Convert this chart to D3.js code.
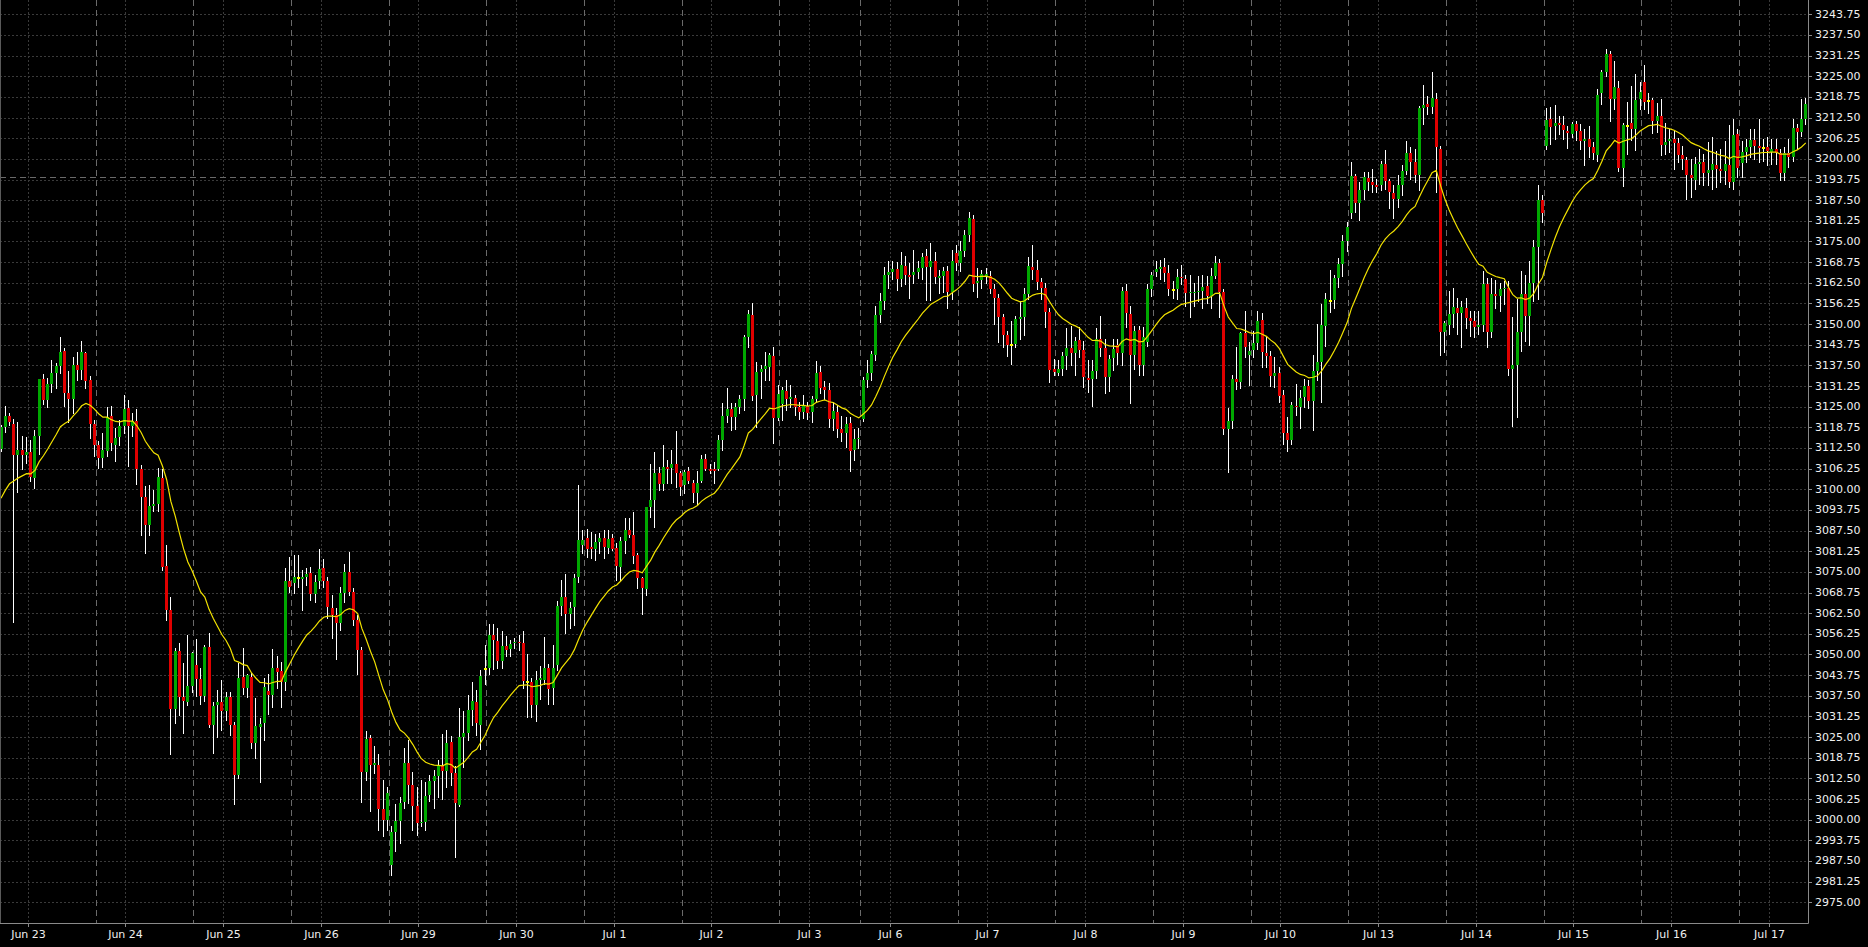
<!DOCTYPE html>
<html><head><meta charset="utf-8">
<script src="https://cdn.jsdelivr.net/npm/d3@7"></script>
<style>html,body{margin:0;padding:0;background:#000;overflow:hidden}svg{display:block}</style>
</head><body>
<svg id="chart" width="1868" height="947"></svg>
<script>
// ---- data: hourly candles [open, high, low, close] per trading session ----
const dayLabels = ["Jun 23","Jun 24","Jun 25","Jun 26","Jun 29","Jun 30","Jul 1","Jul 2","Jul 3","Jul 6","Jul 7","Jul 8","Jul 9","Jul 10","Jul 13","Jul 14","Jul 15","Jul 16","Jul 17"];
const jun23 = [[3112.1,3119.5,3111.5,3118.9],[3118.7,3125.2,3117.4,3122.2],[3122.2,3123.0,3119.4,3120.5],[3119.9,3121.2,3059.9,3110.4],[3110.4,3120.4,3099.1,3111.9],[3111.9,3116.1,3106.0,3110.4],[3110.4,3115.7,3108.0,3111.2],[3111.2,3114.9,3102.6,3103.8],[3103.5,3117.9,3100.3,3116.1],[3116.1,3133.4,3110.6,3133.4],[3133.3,3134.9,3125.8,3127.0],[3127.0,3133.6,3125.0,3131.8],[3131.8,3139.1,3129.5,3135.1],[3135.1,3138.1,3130.5,3137.3],[3137.3,3146.0,3135.3,3141.6],[3141.8,3142.9,3125.3,3129.2],[3129.2,3135.9,3120.4,3127.2],[3127.2,3140.1,3123.2,3137.6],[3137.6,3141.5,3133.1,3136.1],[3136.1,3144.9,3133.3,3141.5],[3141.3,3141.5,3130.5,3132.9],[3133.1,3134.3,3115.4,3119.9],[3119.9,3121.0,3110.0,3113.5]];
const jun24 = [[3113.5,3114.5,3106.5,3109.5],[3109.5,3117.0,3106.6,3111.9],[3111.6,3125.0,3110.0,3121.8],[3122.2,3125.2,3112.0,3113.9],[3113.4,3118.5,3108.6,3115.4],[3115.7,3121.0,3113.5,3119.1],[3119.1,3128.4,3117.0,3124.3],[3124.7,3127.0,3107.0,3119.2],[3119.2,3123.0,3116.0,3120.6],[3120.6,3124.3,3101.6,3106.0],[3106.0,3107.4,3086.1,3097.8],[3097.8,3101.0,3080.7,3089.2],[3089.2,3101.3,3086.1,3095.0],[3095.0,3099.8,3093.5,3095.6],[3095.6,3106.5,3093.5,3103.6],[3103.4,3106.0,3075.6,3076.5],[3076.7,3083.0,3060.5,3063.6],[3063.4,3067.5,3019.9,3033.4],[3033.4,3052.0,3029.4,3051.0],[3051.0,3053.4,3031.8,3037.2],[3037.2,3047.3,3026.1,3035.8],[3035.5,3055.9,3034.7,3040.4],[3040.4,3050.9,3038.7,3050.5]];
const jun25 = [[3046.8,3054.6,3037.4,3042.5],[3042.5,3046.0,3035.0,3037.4],[3037.4,3053.0,3036.0,3052.4],[3052.4,3056.4,3028.2,3028.6],[3028.6,3035.5,3020.1,3034.4],[3034.7,3039.2,3025.1,3035.7],[3035.7,3042.3,3027.1,3032.9],[3032.9,3038.7,3030.2,3037.2],[3037.2,3038.5,3025.6,3028.8],[3028.8,3029.5,3004.9,3013.5],[3013.5,3047.3,3012.5,3043.0],[3043.3,3051.9,3038.0,3039.8],[3039.8,3044.2,3037.0,3043.8],[3043.3,3044.3,3021.6,3023.3],[3023.3,3036.9,3018.6,3028.4],[3028.2,3030.7,3011.5,3029.1],[3029.3,3042.8,3024.1,3040.3],[3038.8,3044.0,3032.0,3037.6],[3037.8,3051.7,3034.2,3045.8],[3045.8,3049.6,3039.8,3044.8],[3045.0,3047.8,3034.2,3041.8],[3041.8,3076.1,3039.3,3072.3],[3072.3,3079.4,3069.0,3070.5]];
const jun26 = [[3071.6,3080.0,3068.5,3073.4],[3073.0,3080.1,3070.5,3073.0],[3072.8,3075.6,3063.5,3073.4],[3073.4,3076.1,3071.0,3074.4],[3074.6,3076.6,3066.6,3068.2],[3068.2,3074.0,3066.0,3072.0],[3072.2,3081.9,3070.0,3075.9],[3076.1,3079.0,3070.5,3072.1],[3072.1,3073.5,3061.0,3064.5],[3064.0,3068.0,3055.0,3062.0],[3061.8,3064.0,3048.5,3059.4],[3059.6,3070.5,3057.5,3068.5],[3068.5,3077.5,3066.0,3075.1],[3075.1,3081.0,3068.0,3069.0],[3069.0,3070.0,3059.0,3060.5],[3060.5,3062.0,3044.0,3051.4],[3051.4,3052.3,3005.5,3014.3],[3014.3,3026.7,3012.0,3024.3],[3024.6,3025.5,3002.7,3016.6],[3016.6,3022.4,3014.0,3017.1],[3016.6,3020.0,2996.8,3003.2],[3003.2,3012.0,2995.0,2999.9],[2999.9,3010.0,2997.0,3008.2]];
const jun29 = [[2986.3,2998.0,2983.4,2996.4],[2996.4,3004.7,2990.5,2999.6],[2999.6,3007.0,2993.0,3005.2],[3005.5,3021.6,3003.5,3017.3],[3017.1,3024.0,3005.0,3010.5],[3010.5,3014.5,2997.0,3004.0],[3004.0,3010.0,2995.5,2998.9],[2998.9,3012.0,2998.0,2999.4],[2999.4,3011.5,2996.9,3007.2],[3007.6,3013.5,3005.6,3011.7],[3011.7,3015.0,3003.5,3013.2],[3013.2,3018.0,3007.0,3016.1],[3016.1,3026.0,3006.2,3014.6],[3014.6,3027.0,3010.0,3023.1],[3023.6,3025.2,3010.6,3014.1],[3014.1,3016.4,2988.6,3005.0],[3004.5,3033.7,3004.0,3025.1],[3025.1,3033.0,3016.0,3026.1],[3026.1,3037.6,3024.1,3033.2],[3033.2,3041.6,3028.7,3035.9],[3035.5,3039.3,3025.5,3029.2],[3028.7,3045.3,3021.3,3043.5],[3045.5,3053.0,3041.0,3045.5]];
const jun30 = [[3045.8,3059.3,3044.0,3055.9],[3055.9,3059.3,3045.5,3054.4],[3054.2,3058.0,3046.0,3048.1],[3048.1,3057.0,3045.8,3052.6],[3052.6,3055.5,3049.6,3051.4],[3051.7,3054.5,3049.5,3053.1],[3053.6,3055.0,3052.0,3053.8],[3053.8,3056.0,3051.5,3053.6],[3053.6,3057.0,3039.8,3042.1],[3041.6,3050.0,3031.2,3041.6],[3041.6,3043.0,3031.0,3034.7],[3034.7,3045.0,3030.0,3042.3],[3042.3,3046.5,3036.5,3042.9],[3042.3,3055.2,3041.0,3045.8],[3045.8,3047.0,3035.0,3039.7],[3039.9,3052.9,3035.0,3045.9],[3046.8,3066.1,3045.2,3064.6],[3064.6,3072.5,3062.0,3067.3],[3067.3,3074.5,3056.4,3062.4],[3062.4,3066.0,3058.0,3064.2],[3064.4,3074.5,3059.0,3073.2],[3073.5,3101.2,3072.0,3084.6],[3083.1,3087.8,3080.6,3084.6]];
const jul01 = [[3085.3,3088.1,3079.6,3081.8],[3082.4,3087.0,3079.3,3081.8],[3081.8,3086.6,3078.5,3084.1],[3084.1,3086.8,3080.6,3085.4],[3085.4,3087.8,3079.1,3082.4],[3082.3,3087.6,3080.6,3085.0],[3085.3,3086.6,3081.5,3082.0],[3082.3,3083.6,3072.5,3076.8],[3076.6,3085.6,3072.5,3084.3],[3084.3,3091.2,3080.6,3087.8],[3087.6,3091.2,3085.5,3086.2],[3086.3,3093.2,3077.6,3079.9],[3080.1,3080.6,3070.0,3073.2],[3073.2,3073.5,3062.4,3070.2],[3069.9,3094.7,3068.0,3094.7],[3094.7,3107.8,3091.7,3096.7],[3096.9,3111.4,3088.7,3104.8],[3105.0,3106.8,3099.8,3101.6],[3101.6,3113.4,3099.8,3106.6],[3106.8,3108.8,3101.8,3106.2],[3106.3,3111.9,3101.8,3107.7],[3107.7,3117.6,3100.8,3105.0],[3105.0,3105.5,3098.2,3100.8]];
const jul02 = [[3101.3,3105.8,3098.8,3105.3],[3105.5,3106.8,3101.8,3102.6],[3102.0,3102.8,3096.2,3098.8],[3098.8,3105.5,3095.5,3102.0],[3102.5,3110.3,3102.3,3109.1],[3109.1,3110.8,3105.8,3106.2],[3106.2,3107.8,3104.8,3105.5],[3106.1,3108.3,3102.0,3105.5],[3106.0,3116.4,3105.8,3114.9],[3114.9,3126.0,3111.9,3122.3],[3122.3,3130.5,3120.4,3124.3],[3124.3,3126.0,3117.9,3122.0],[3122.0,3126.0,3118.1,3124.8],[3124.8,3128.5,3123.0,3127.3],[3127.3,3146.7,3124.0,3146.2],[3146.2,3154.2,3143.1,3153.0],[3152.7,3156.3,3127.0,3128.3],[3128.5,3138.6,3118.9,3135.6],[3135.6,3137.6,3127.5,3136.4],[3136.4,3141.6,3133.1,3137.4],[3137.1,3141.1,3133.1,3140.6],[3140.3,3143.1,3114.1,3121.7],[3121.7,3131.5,3121.0,3128.8]];
const jul03 = [[3125.8,3131.0,3121.0,3130.0],[3129.8,3133.0,3124.0,3127.3],[3127.3,3131.5,3125.0,3127.8],[3127.6,3128.5,3122.5,3124.8],[3124.8,3126.5,3121.3,3123.5],[3123.5,3128.5,3121.5,3125.2],[3125.2,3126.5,3121.3,3123.2],[3123.3,3128.2,3120.3,3127.3],[3127.3,3138.7,3126.5,3135.3],[3135.4,3137.2,3129.0,3130.6],[3130.9,3132.7,3127.3,3130.1],[3130.1,3132.1,3118.9,3121.3],[3121.3,3126.5,3117.9,3123.8],[3123.5,3125.4,3115.7,3118.1],[3118.1,3122.3,3114.7,3116.9],[3116.9,3121.8,3112.9,3119.8],[3120.0,3122.0,3105.6,3111.7],[3111.9,3118.3,3109.0,3115.1],[3115.1,3118.6,3112.5,3115.6]];
const jul06 = [[3121.3,3134.0,3120.6,3133.1],[3133.1,3139.0,3131.0,3135.1],[3135.1,3142.0,3133.0,3141.0],[3140.7,3155.5,3139.0,3152.6],[3152.6,3159.5,3150.5,3157.0],[3157.0,3167.4,3154.5,3164.9],[3164.9,3169.0,3161.0,3165.9],[3165.9,3169.1,3163.5,3166.7],[3166.7,3168.9,3160.4,3163.6],[3163.6,3171.8,3161.5,3167.9],[3167.6,3170.6,3162.0,3164.7],[3164.9,3168.5,3158.0,3164.3],[3164.8,3172.4,3162.5,3165.8],[3165.9,3169.0,3164.0,3166.9],[3166.9,3171.5,3163.5,3170.2],[3170.6,3172.8,3157.3,3167.4],[3167.4,3174.5,3157.4,3169.0],[3169.0,3171.9,3162.5,3164.1],[3164.0,3166.5,3159.3,3164.5],[3164.5,3167.4,3159.8,3166.1],[3166.1,3167.5,3155.0,3159.8],[3159.8,3172.3,3157.5,3169.1],[3171.4,3174.0,3166.5,3168.6]];
const jul07 = [[3168.6,3175.0,3166.0,3172.1],[3172.1,3178.5,3170.5,3177.0],[3177.0,3184.0,3175.0,3182.0],[3181.8,3183.1,3160.0,3162.1],[3162.4,3167.0,3158.2,3163.1],[3163.3,3166.5,3161.0,3165.2],[3164.5,3167.0,3162.5,3165.2],[3164.5,3166.0,3159.5,3160.6],[3160.6,3162.0,3150.0,3157.8],[3157.8,3159.0,3144.6,3152.2],[3152.2,3153.0,3143.0,3146.7],[3146.7,3148.0,3140.2,3143.7],[3143.7,3151.0,3138.0,3143.7],[3144.0,3152.5,3143.0,3151.5],[3151.4,3157.0,3145.5,3152.2],[3152.2,3161.0,3146.7,3159.0],[3159.0,3170.2,3157.5,3167.6],[3167.4,3174.0,3163.5,3166.4],[3166.4,3169.5,3160.5,3162.8],[3162.8,3164.0,3157.7,3160.8],[3160.8,3162.5,3149.0,3153.8],[3153.8,3155.0,3132.6,3136.1],[3136.3,3139.5,3134.5,3135.6]];
const jul08 = [[3135.2,3139.0,3134.5,3136.3],[3136.3,3141.5,3134.5,3140.3],[3140.3,3148.8,3136.5,3142.9],[3142.8,3149.3,3137.5,3141.3],[3141.3,3146.0,3134.6,3144.9],[3145.2,3149.0,3140.0,3142.2],[3142.2,3145.0,3131.0,3133.9],[3133.6,3139.0,3129.4,3133.1],[3133.3,3139.0,3125.3,3135.8],[3135.8,3148.8,3133.6,3145.4],[3145.4,3152.3,3140.2,3142.7],[3142.7,3145.6,3129.0,3134.1],[3133.9,3140.5,3129.8,3139.3],[3139.8,3145.5,3136.1,3142.6],[3143.7,3145.5,3138.0,3141.2],[3141.2,3161.2,3137.5,3160.0],[3160.0,3162.0,3149.0,3153.3],[3153.1,3155.5,3126.0,3140.7],[3140.7,3149.5,3136.5,3148.0],[3148.2,3149.5,3134.5,3137.6],[3137.6,3149.0,3134.5,3146.2],[3144.7,3162.0,3143.5,3160.5],[3160.5,3165.7,3158.5,3164.9]];
const jul09 = [[3165.9,3169.1,3164.6,3166.6],[3166.6,3169.3,3163.5,3167.4],[3167.4,3170.1,3163.0,3165.4],[3165.4,3168.0,3158.7,3160.5],[3160.3,3163.0,3158.0,3160.3],[3160.6,3166.6,3157.5,3164.2],[3164.3,3167.8,3162.0,3163.8],[3163.7,3165.0,3155.4,3159.3],[3159.3,3165.0,3152.0,3159.8],[3159.3,3162.3,3155.4,3159.8],[3159.6,3164.5,3157.0,3160.1],[3160.0,3165.0,3155.0,3161.3],[3161.6,3164.6,3156.4,3158.5],[3158.5,3167.0,3155.0,3164.4],[3164.4,3170.5,3164.0,3168.6],[3168.4,3169.8,3152.0,3159.8],[3159.8,3160.5,3116.6,3118.2],[3118.2,3124.5,3105.3,3120.7],[3120.7,3134.5,3118.5,3133.3],[3133.3,3143.0,3130.4,3132.6],[3132.6,3147.5,3130.5,3147.2],[3147.2,3154.0,3140.0,3143.2],[3140.7,3144.5,3131.5,3141.9]];
const jul10 = [[3142.2,3148.0,3140.0,3144.2],[3144.2,3154.0,3142.5,3150.9],[3151.3,3153.5,3137.0,3141.4],[3141.2,3146.0,3137.0,3140.4],[3140.4,3142.0,3131.4,3134.3],[3134.3,3140.0,3131.0,3135.1],[3135.1,3137.0,3126.5,3128.2],[3128.6,3130.0,3113.8,3117.0],[3117.0,3122.0,3111.5,3115.0],[3115.0,3126.5,3113.6,3125.5],[3125.2,3132.0,3122.5,3124.8],[3125.0,3130.0,3118.5,3127.5],[3127.8,3133.5,3125.0,3131.3],[3131.3,3133.0,3124.5,3126.8],[3126.8,3140.5,3118.0,3135.8],[3135.8,3150.0,3133.0,3138.6],[3138.6,3156.0,3126.3,3149.7],[3149.5,3159.5,3143.4,3157.6],[3157.1,3166.5,3153.6,3157.1],[3157.3,3165.0,3155.0,3163.9],[3163.9,3170.0,3161.3,3168.2],[3168.2,3177.0,3164.5,3175.0],[3175.0,3181.0,3172.0,3179.3]];
const jul13 = [[3183.7,3198.9,3182.0,3194.8],[3194.8,3195.5,3184.0,3186.6],[3186.6,3193.0,3181.5,3190.6],[3190.6,3196.0,3188.0,3194.4],[3194.3,3196.0,3190.5,3193.1],[3193.1,3197.0,3190.0,3192.1],[3192.1,3194.0,3190.0,3191.6],[3192.1,3199.4,3190.5,3198.5],[3198.5,3202.6,3191.0,3193.4],[3193.4,3194.0,3185.0,3190.1],[3189.6,3192.0,3182.0,3187.8],[3187.8,3195.0,3185.5,3192.1],[3192.1,3198.0,3189.0,3196.4],[3196.4,3205.3,3195.5,3201.7],[3201.7,3203.5,3194.0,3199.2],[3199.2,3203.0,3193.0,3195.1],[3195.1,3216.0,3190.6,3215.3],[3215.3,3222.3,3210.5,3216.3],[3216.6,3219.0,3213.5,3215.8],[3215.8,3226.3,3214.0,3218.3],[3218.0,3220.0,3189.9,3203.5],[3202.9,3204.0,3140.6,3147.7],[3147.7,3151.0,3141.5,3150.4]];
const jul14 = [[3149.7,3160.0,3147.0,3153.0],[3153.0,3161.0,3149.0,3155.3],[3155.0,3158.0,3147.0,3153.5],[3153.5,3157.0,3143.0,3155.3],[3154.8,3158.0,3148.8,3151.8],[3151.8,3154.0,3146.5,3150.8],[3150.8,3154.0,3146.0,3149.2],[3149.2,3154.0,3147.0,3149.7],[3149.7,3166.0,3148.0,3162.2],[3162.2,3164.0,3143.0,3147.7],[3147.7,3164.0,3146.0,3159.1],[3159.1,3163.2,3155.0,3158.5],[3158.5,3162.5,3154.0,3160.6],[3160.6,3163.0,3156.0,3161.0],[3161.0,3163.0,3134.6,3136.4],[3136.4,3152.0,3119.0,3137.6],[3137.6,3157.5,3122.0,3147.7],[3147.7,3166.0,3142.0,3159.1],[3159.1,3165.0,3145.0,3152.3],[3152.3,3169.0,3143.7,3162.4],[3162.4,3175.5,3157.0,3173.3],[3173.4,3192.0,3157.5,3187.6],[3187.6,3189.0,3181.0,3183.5]];
const jul15 = [[3203.9,3215.5,3203.0,3211.8],[3212.0,3215.6,3204.6,3209.6],[3210.0,3216.3,3206.0,3210.8],[3211.0,3212.9,3207.4,3210.3],[3210.3,3213.0,3206.0,3208.6],[3208.3,3210.0,3203.3,3207.7],[3207.6,3211.3,3206.5,3210.6],[3210.6,3211.5,3205.6,3208.3],[3208.3,3210.5,3203.0,3205.4],[3205.4,3209.0,3198.0,3206.0],[3206.0,3209.8,3200.5,3203.7],[3203.7,3205.0,3200.0,3201.7],[3201.2,3221.0,3199.5,3219.4],[3219.9,3227.0,3216.5,3226.4],[3226.4,3233.3,3225.0,3231.8],[3231.8,3232.5,3211.5,3218.0],[3218.0,3229.6,3215.0,3221.7],[3221.4,3223.6,3196.2,3197.2],[3197.2,3211.0,3191.9,3210.3],[3210.0,3217.2,3201.5,3210.0],[3210.8,3221.9,3205.6,3209.0],[3209.0,3225.7,3202.6,3217.8],[3218.0,3223.2,3215.0,3220.1]];
const jul16 = [[3223.4,3228.4,3215.0,3217.3],[3217.5,3220.0,3214.0,3217.5],[3217.8,3218.3,3207.7,3211.5],[3211.5,3217.0,3208.0,3213.0],[3213.0,3218.0,3201.3,3204.2],[3204.2,3211.0,3201.5,3205.2],[3205.4,3209.0,3202.0,3206.0],[3206.0,3208.5,3197.0,3204.7],[3204.7,3206.3,3199.0,3201.2],[3201.2,3204.0,3197.0,3200.0],[3199.7,3200.5,3188.0,3195.1],[3195.1,3200.0,3188.4,3194.1],[3193.6,3200.5,3191.0,3198.5],[3198.5,3203.0,3192.5,3199.2],[3199.2,3201.5,3192.0,3195.6],[3195.6,3205.0,3192.0,3196.6],[3196.6,3206.7,3191.0,3198.5],[3198.2,3202.5,3191.4,3196.9],[3197.0,3203.0,3193.0,3196.4],[3196.2,3205.5,3192.5,3198.5],[3198.2,3210.2,3191.5,3193.1],[3193.1,3212.0,3191.0,3207.2],[3207.5,3209.0,3194.5,3197.2]];
const jul17 = [[3198.7,3205.5,3194.5,3202.2],[3202.2,3206.0,3199.0,3203.7],[3203.7,3209.0,3200.5,3205.7],[3205.7,3209.0,3200.0,3203.9],[3203.9,3212.0,3199.0,3203.4],[3203.4,3206.0,3199.5,3203.4],[3203.5,3206.7,3198.0,3202.5],[3202.0,3206.0,3198.5,3203.0],[3202.9,3206.0,3198.5,3201.9],[3201.9,3203.0,3193.6,3195.6],[3195.6,3203.5,3193.5,3201.7],[3201.7,3206.0,3197.5,3200.7],[3200.7,3212.0,3199.5,3209.3],[3209.3,3210.5,3203.0,3208.2],[3208.2,3218.0,3207.0,3212.0],[3212.0,3218.4,3210.5,3216.6]];
const sessions = [jun23,jun24,jun25,jun26,jun29,jun30,jul01,jul02,jul03,jul06,jul07,jul08,jul09,jul10,jul13,jul14,jul15,jul16,jul17];
// moving average: 20-period exponential MA of close, starting from the value read at the first bar
const maPeriod = 20;
const maStart = 3097.3;
const refLevel = 3194.5;
const priceMin = 2975, priceMax = 3243.75, priceStep = 6.25;
const priceTicks = d3.range(priceMin, priceMax + 0.001, priceStep);
const labelBarOffset = 7;

// ---- build ----
const bars = [];
const dayStarts = [];
sessions.forEach((s, d) => { dayStarts.push(bars.length); s.forEach(b => bars.push({o:b[0],h:b[1],l:b[2],c:b[3],day:d})); });
const N = bars.length;
const alpha = 2 / (maPeriod + 1);
bars.forEach((b, i) => { b.ma = i === 0 ? maStart : bars[i-1].ma + alpha * (b.c - bars[i-1].ma); });

const plotR = 1808, plotB = 923;
const svg = d3.select("#chart");
svg.append("rect").attr("width",1868).attr("height",947).attr("fill","#000");
const x = d3.scaleLinear().domain([0, N - 1]).range([0.5, 0.5 + (N - 1) * 4.2465]);
const y = d3.scaleLinear().domain([priceMin, priceMax]).range([902.3, 14.3]);
const px = v => Math.round(v) + 0.5;

svg.append("defs").append("clipPath").attr("id","plot").append("rect").attr("x",0).attr("y",0).attr("width",plotR).attr("height",plotB);
const g = svg.append("g").attr("clip-path","url(#plot)");

// horizontal grid
g.selectAll("line.hg").data(priceTicks).join("line")
  .attr("x1",0).attr("x2",plotR).attr("y1",d=>px(y(d))).attr("y2",d=>px(y(d)))
  .attr("stroke","#3a3a3a").attr("stroke-dasharray","2,2");
// vertical grid at labels
const labelPos = dayStarts.map(s => px(x(s + labelBarOffset) - 2.5));
g.selectAll("line.vg").data(labelPos).join("line")
  .attr("x1",d=>d).attr("x2",d=>d).attr("y1",0).attr("y2",plotB)
  .attr("stroke","#3a3a3a").attr("stroke-dasharray","2,2");
// period separators
g.selectAll("line.sep").data(dayStarts.slice(1)).join("line")
  .attr("x1",d=>px(x(d)-2.5)).attr("x2",d=>px(x(d)-2.5)).attr("y1",0).attr("y2",plotB)
  .attr("stroke","#6a6a6a").attr("stroke-dasharray","6,4");
// reference line
g.append("line").attr("x1",0).attr("x2",plotR).attr("y1",px(y(refLevel))).attr("y2",px(y(refLevel)))
  .attr("stroke","#6a6a6a").attr("stroke-dasharray","6,4");

// candles
const cg = g.append("g");
bars.forEach((b, i) => {
  const xc = Math.round(x(i));
  const top = Math.max(b.o, b.c), bot = Math.min(b.o, b.c);
  const hi = Math.max(b.h, top), lo = Math.min(b.l, bot);
  cg.append("line").attr("x1",xc+0.5).attr("x2",xc+0.5)
    .attr("y1",Math.round(y(hi))).attr("y2",Math.round(y(lo))+1)
    .attr("stroke","#ffffff").attr("stroke-width",1);
  if (b.o === b.c) {
    cg.append("rect").attr("x",xc-1).attr("width",3).attr("y",Math.round(y(b.c))-1).attr("height",2).attr("fill","#ffff00");
  } else {
    const yt = Math.round(y(top)), yb = Math.round(y(bot));
    cg.append("rect").attr("x",xc-1).attr("width",3).attr("y",yt).attr("height",Math.max(1,yb-yt))
      .attr("fill", b.c > b.o ? "#00a800" : "#e00000");
  }
});

// moving average
const line = d3.line().x(d=>x(d.i)+0.5).y(d=>y(d.ma));
g.append("path").datum(bars.map((b,i)=>({i, ma:b.ma})))
  .attr("d", line).attr("fill","none").attr("stroke","#f2e200").attr("stroke-width",1.2);

// axes lines
svg.append("line").attr("x1",plotR+0.5).attr("x2",plotR+0.5).attr("y1",0).attr("y2",plotB+0.5).attr("stroke","#8a8a8a");
svg.append("line").attr("x1",0).attr("x2",plotR+0.5).attr("y1",plotB+0.5).attr("y2",plotB+0.5).attr("stroke","#8a8a8a");
svg.append("line").attr("x1",0.5).attr("x2",0.5).attr("y1",0).attr("y2",plotB).attr("stroke","#5a5a5a");

// right labels
const font = "'DejaVu Sans', Verdana, sans-serif";
svg.selectAll("line.yt").data(priceTicks).join("line")
  .attr("x1",plotR+1).attr("x2",plotR+4).attr("y1",d=>px(y(d))).attr("y2",d=>px(y(d))).attr("stroke","#8a8a8a");
svg.selectAll("text.yl").data(priceTicks).join("text")
  .attr("x",1815).attr("y",d=>y(d)).attr("dominant-baseline","central")
  .attr("fill","#f0f0f0").attr("font-family",font).attr("font-size","11px")
  .text(d=>d.toFixed(2));
// bottom labels
svg.selectAll("line.xt").data(labelPos).join("line")
  .attr("x1",d=>d).attr("x2",d=>d).attr("y1",plotB+1).attr("y2",plotB+4).attr("stroke","#8a8a8a");
svg.selectAll("text.xl").data(dayLabels).join("text")
  .attr("x",(d,i)=>labelPos[i]).attr("y",934).attr("dominant-baseline","central").attr("text-anchor","middle")
  .attr("fill","#f0f0f0").attr("font-family",font).attr("font-size","11px")
  .text(d=>d);
</script>
</body></html>
